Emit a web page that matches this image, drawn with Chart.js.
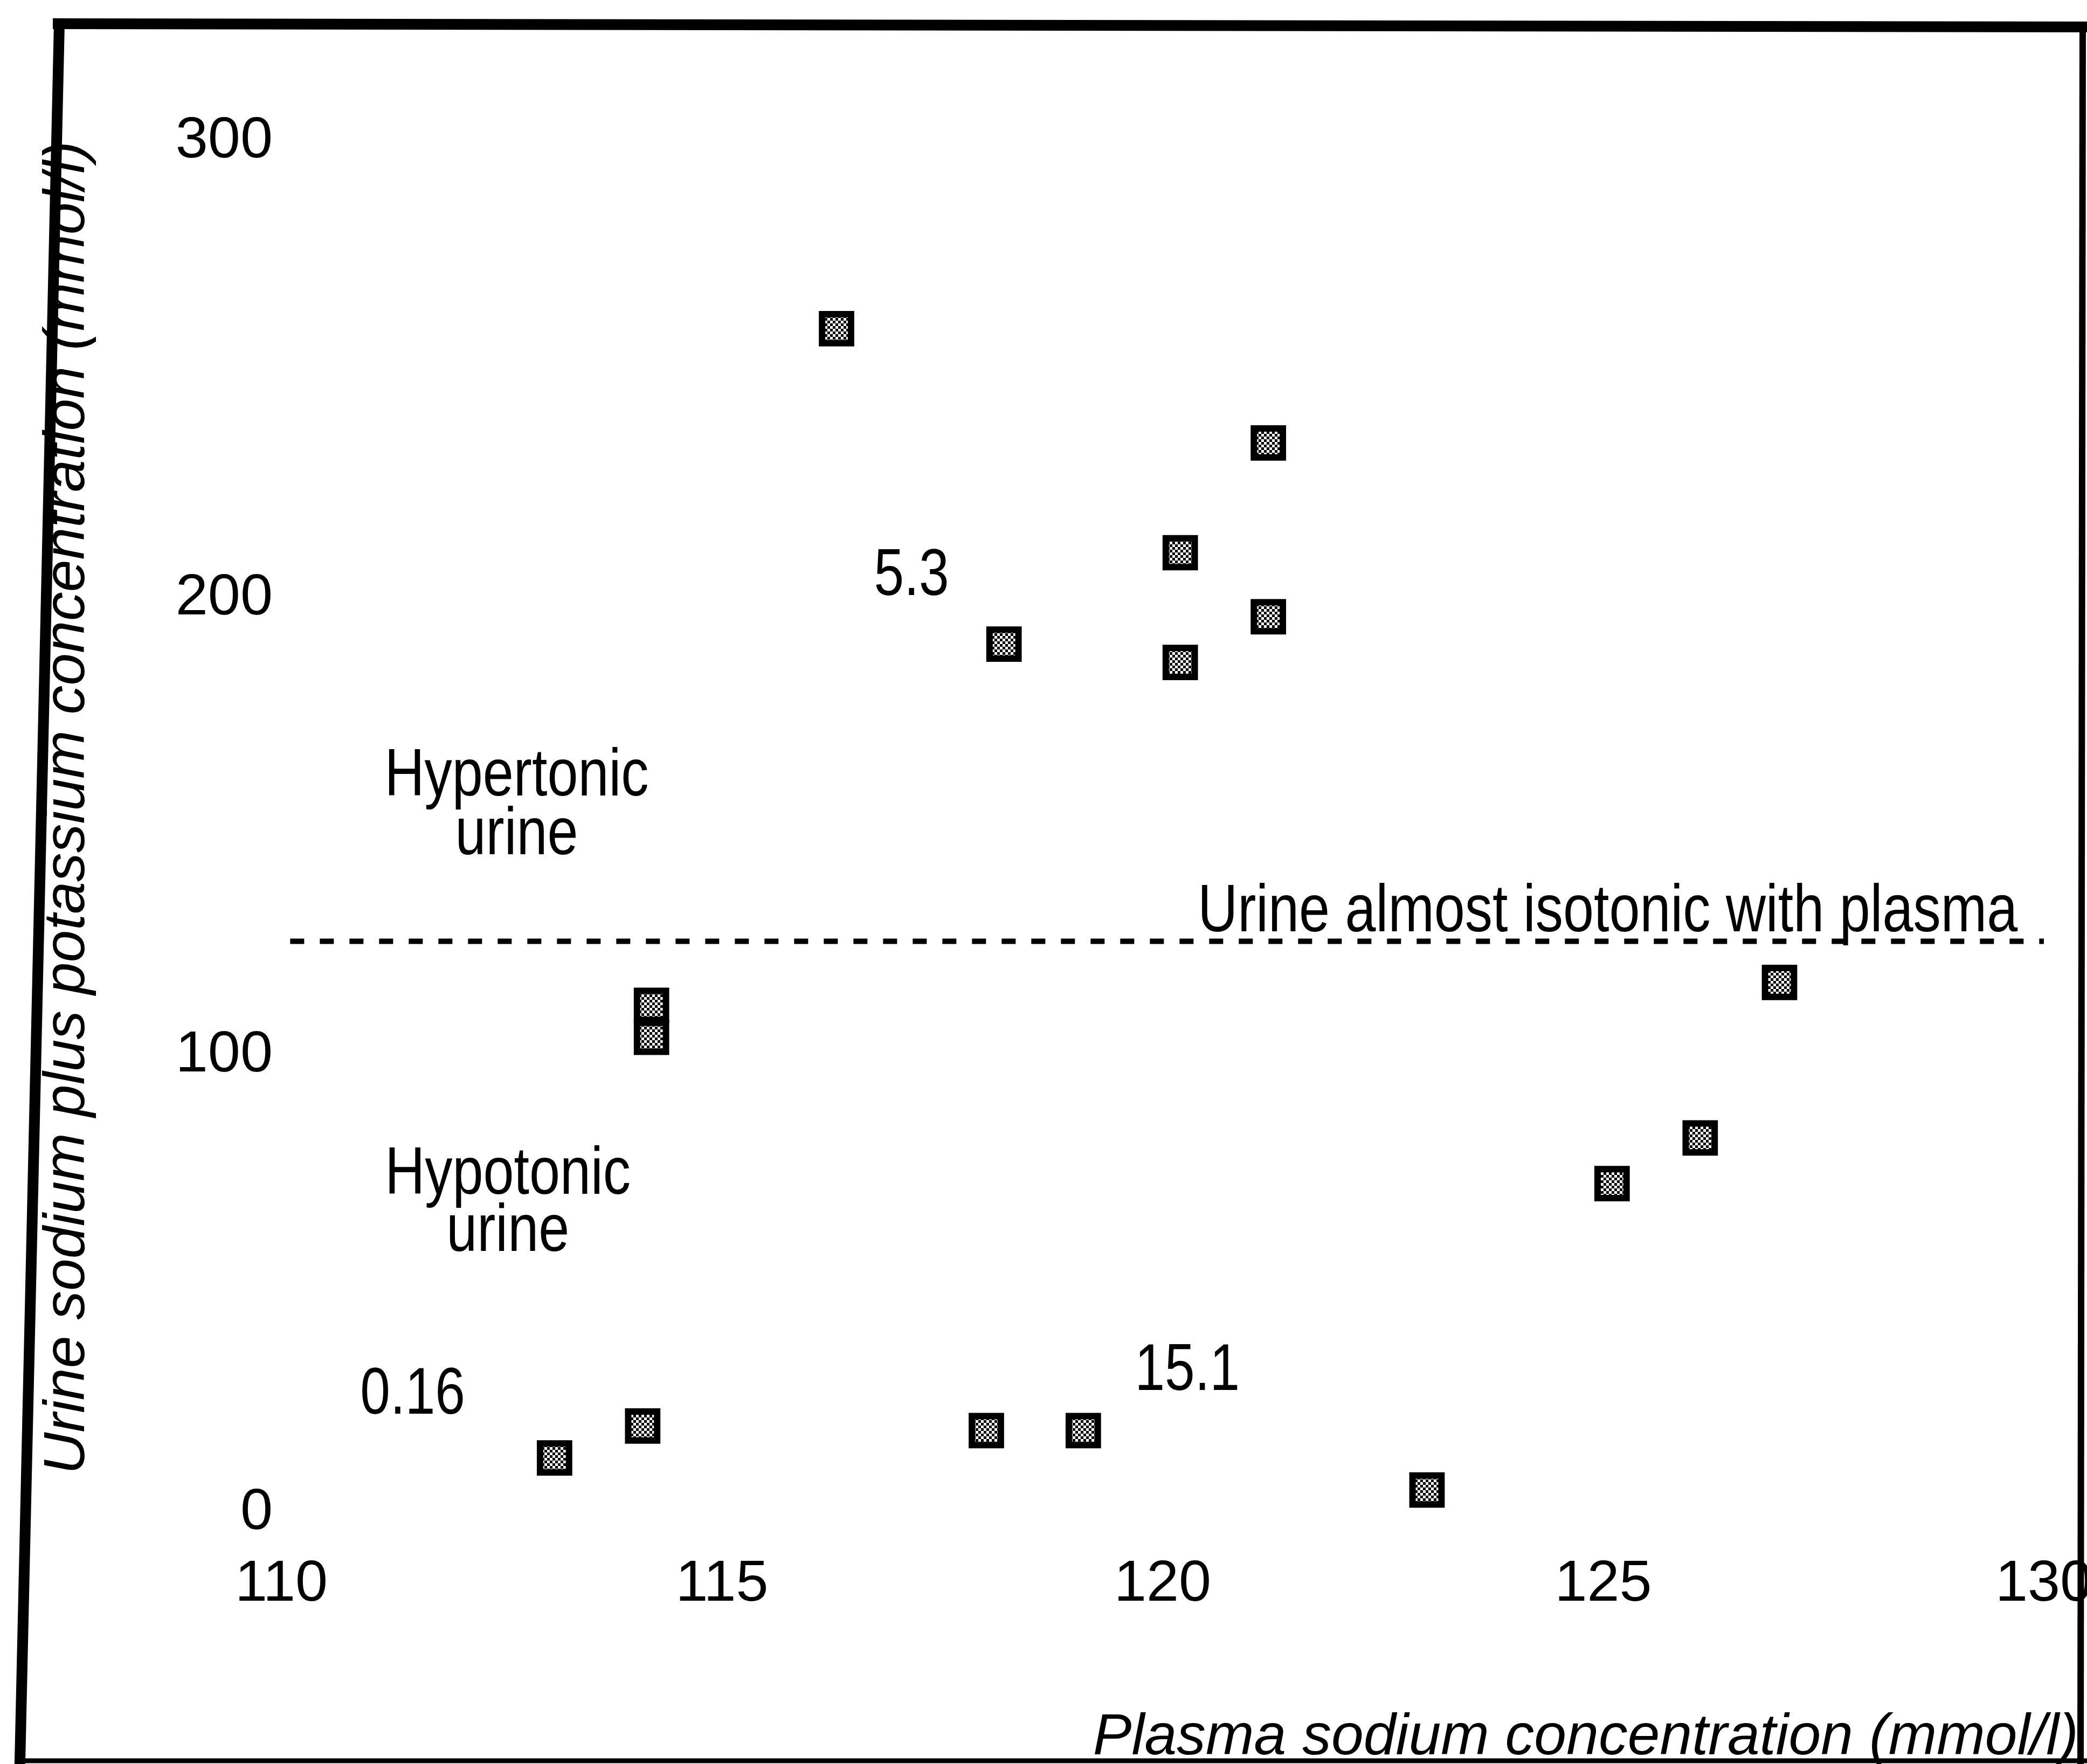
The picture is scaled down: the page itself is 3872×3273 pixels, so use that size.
<!DOCTYPE html>
<html>
<head>
<meta charset="utf-8">
<script src="https://cdn.jsdelivr.net/npm/chart.js@4.4.1/dist/chart.umd.min.js"></script>
<style>
html,body{margin:0;padding:0;background:#fff;}
#wrap{width:3872px;height:3273px;position:relative;background:#fff;}
canvas{display:block;}
</style>
</head>
<body>
<div id="wrap"><canvas id="c" width="3872" height="3273"></canvas></div>
<script>
// ---- data ----
const plasmaSodium = [116.3, 121.2, 120.2, 121.2, 118.2, 120.2, 114.2, 114.2, 127.0, 126.1, 125.1, 113.1, 114.1, 118.0, 119.1, 123.0];
const urineSodiumPotassium = [259, 234, 210, 196, 190, 186, 111, 104, 116, 82, 72, 12, 19, 18, 18, 5];
const isotonicX = [110.1, 130];
const isotonicY = [125, 125];
const xTickValues = [110, 115, 120, 125, 130];
const yTickValues = [0, 100, 200, 300];
const xTitle = 'Plasma sodium concentration (mmol/l)';
const yTitle = 'Urine sodium plus potassium concentration (mmol/l)';
const noteTexts = ['Hypertonic', 'urine', 'Hypotonic', 'urine', '5.3', '0.16', '15.1', 'Urine almost isotonic with plasma'];
const noteX = [112.67, 112.67, 112.57, 112.57, 117.15, 111.49, 120.28, 125.05];
const noteY = [156.9, 144.0, 69.8, 57.3, 200.8, 21.7, 26.9, 127.2];

// ---- font choice (condensed look) ----
function hasFont(name) {
  const c = document.createElement('canvas').getContext('2d');
  const s = 'mmmmmmmmmmlliiWW0123';
  c.font = '100px monospace';
  const a = c.measureText(s).width;
  c.font = '100px "' + name + '", monospace';
  const b = c.measureText(s).width;
  return Math.abs(a - b) > 0.5;
}
const NARROW = hasFont('Liberation Sans Narrow');
const FAMILY = NARROW ? '"Liberation Sans Narrow", "Liberation Sans", Arial, sans-serif'
                      : '"Liberation Sans", Arial, sans-serif';
const SQUEEZE = NARROW ? 1 : 0.82;          // horizontal squeeze for free text
const TICK_SIZE = NARROW ? 118 : 108;
const TITLE_SIZE = NARROW ? 128 : 107.5;

Chart.defaults.font.family = FAMILY;
Chart.defaults.color = '#000';

const canvas = document.getElementById('c');
const ctx = canvas.getContext('2d');

// speckled marker fill
const pc = document.createElement('canvas');
pc.width = 10; pc.height = 10;
const pg = pc.getContext('2d');
pg.fillStyle = '#ffffff'; pg.fillRect(0, 0, 10, 10);
pg.fillStyle = '#000000';
pg.fillRect(0, 0, 5, 5); pg.fillRect(5, 5, 5, 5);
const markerFill = ctx.createPattern(pc, 'repeat');

const notesPlugin = {
  id: 'notes',
  afterDatasetsDraw(chart) {
    const c = chart.ctx, xs = chart.scales.x, ys = chart.scales.y;
    noteTexts.forEach((t, i) => {
      const isNum = /^[0-9.]+$/.test(t);
      c.save();
      c.fillStyle = '#000';
      c.textAlign = 'center';
      c.textBaseline = 'alphabetic';
      c.font = (isNum ? 122 : 125) + 'px ' + FAMILY;
      c.translate(xs.getPixelForValue(noteX[i]), ys.getPixelForValue(noteY[i]));
      c.scale(SQUEEZE, 1);
      c.fillText(t, 0, 0);
      c.restore();
    });
  }
};

// let the x-axis title run to the right edge of the frame, as in the original
const titleShiftPlugin = {
  id: 'titleShift',
  beforeDraw(chart) {
    chart.scales.x.right = 3856;
  }
};

const framePlugin = {
  id: 'frame',
  afterDraw(chart) {
    const c = chart.ctx;
    c.save();
    c.strokeStyle = '#000';
    c.lineCap = 'square';
    const seg = (x1, y1, x2, y2, w) => { c.lineWidth = w; c.beginPath(); c.moveTo(x1, y1); c.lineTo(x2, y2); c.stroke(); };
    seg(108, 44, 3872, 50, 20);
    seg(110, 44, 37, 3266, 20);
    seg(3864, 48, 3860, 3273, 12);
    seg(37, 3267, 3872, 3267, 9);
    c.restore();
  }
};

new Chart(ctx, {
  type: 'scatter',
  data: {
    datasets: [
      {
        label: 'Urine almost isotonic with plasma',
        type: 'line',
        data: isotonicX.map((x, i) => ({ x: x, y: isotonicY[i] })),
        borderColor: '#000',
        borderWidth: 10,
        borderDash: [26, 29],
        pointRadius: 0,
        fill: false,
        clip: false,
        order: 2
      },
      {
        label: 'Patients',
        data: plasmaSodium.map((x, i) => ({ x: x, y: urineSodiumPotassium[i] })),
        pointStyle: 'rect',
        pointRadius: 38,
        pointHoverRadius: 38,
        pointBackgroundColor: markerFill,
        pointBorderColor: '#000',
        pointBorderWidth: 12,
        order: 1
      }
    ]
  },
  options: {
    responsive: false,
    animation: false,
    devicePixelRatio: 1,
    layout: { padding: { left: 0, right: 0, top: 262, bottom: 0 } },
    plugins: { legend: { display: false }, tooltip: { enabled: false } },
    scales: {
      x: {
        type: 'linear',
        min: 110, max: 130,
        afterBuildTicks: s => { s.ticks = xTickValues.map(v => ({ value: v })); },
        afterFit: s => { s.height = 3273 - 2807; s.paddingRight = 80; s.paddingLeft = 0; },
        grid: { display: false, drawTicks: false },
        border: { display: false },
        ticks: { font: { size: TICK_SIZE }, padding: 68, color: '#000', maxRotation: 0, autoSkip: false },
        title: { display: true, text: xTitle, align: 'end', color: '#000',
                 font: { size: TITLE_SIZE, style: 'italic', lineHeight: 0.9 }, padding: { top: 0, bottom: 0 } }
      },
      y: {
        type: 'linear',
        min: 0, max: 300,
        afterBuildTicks: s => { s.ticks = yTickValues.map(v => ({ value: v })); },
        afterFit: s => { s.width = 522; },
        grid: { display: false, drawTicks: false },
        border: { display: false },
        ticks: { font: { size: TICK_SIZE }, padding: 16, color: '#000', autoSkip: false },
        title: { display: true, text: yTitle, align: 'end', color: '#000',
                 font: { size: TITLE_SIZE, style: 'italic', lineHeight: 0.9 }, padding: { top: 78, bottom: 0 } }
      }
    }
  },
  plugins: [notesPlugin, titleShiftPlugin, framePlugin]
});
</script>
</body>
</html>
